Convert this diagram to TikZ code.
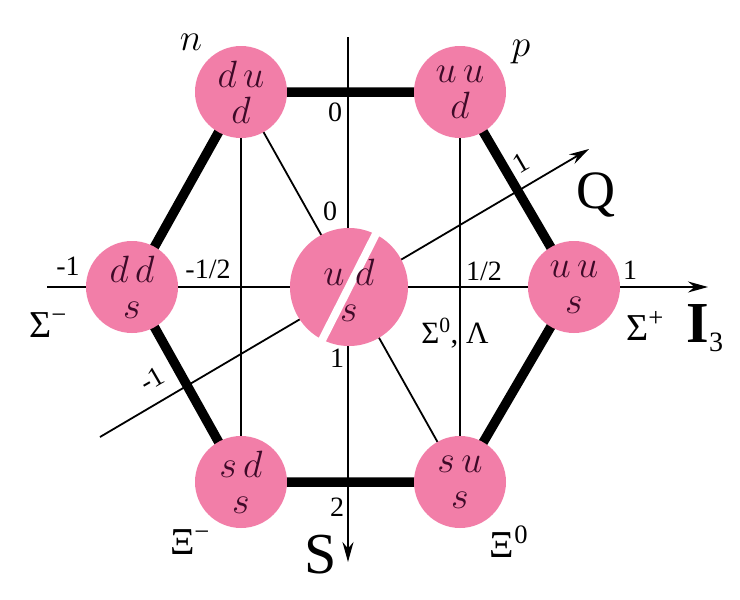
\RequirePackage{fix-cm}
\documentclass[tikz,border=0pt]{standalone}
\usepackage{fontspec}
\setmainfont{Liberation Serif}
\usetikzlibrary{arrows.meta}
\definecolor{quarkpink}{RGB}{242,126,168}
\definecolor{quarkink}{RGB}{62,10,40}
\tikzset{
  baryon/.style={circle, fill=quarkpink, draw=none, minimum size=92pt, inner sep=0pt,
    text=quarkink, align=center, font=\fontsize{38}{36}\selectfont},
  thinline/.style={line width=1.8pt, black},
  thickedge/.style={line width=9.5pt, black},
  axisline/.style={line width=1.8pt, black, -{Stealth[length=20pt,width=11pt]}},
  numlbl/.style={font=\fontsize{28}{30}\selectfont, inner sep=0pt},
  partlbl/.style={font=\fontsize{38}{40}\selectfont, inner sep=0pt},
  biglbl/.style={font=\fontsize{58}{60}\selectfont, inner sep=0pt},
}
\begin{document}
\begin{tikzpicture}[x=1pt,y=-1pt]
\useasboundingbox[fill=white] (0,0) rectangle (740,600);
% positions
\coordinate (cn) at (241,92);
\coordinate (cp) at (460,92);
\coordinate (csm) at (132,287);
\coordinate (c0) at (349,287);
\coordinate (csp) at (574,287);
\coordinate (cxm) at (241,482);
\coordinate (cx0) at (460,482);
% axes ends
\coordinate (iA) at (47,287);
\coordinate (iB) at (708,287);
\coordinate (sA) at (348,37);
\coordinate (sB) at (348,562);
\coordinate (qA) at (100,437);
\coordinate (qB) at (589,149);
% thin lines
\draw[thinline] (cn) -- (cxm);
\draw[thinline] (cp) -- (cx0);
\draw[thinline] (cn) -- (cx0);
% axes
\draw[axisline] (iA) -- (iB);
\draw[axisline] (sA) -- (sB);
\draw[axisline] (qA) -- (qB);
% thick hexagon
\draw[thickedge] (cn) -- (cp) -- (csp) -- (cx0) -- (cxm) -- (csm) -- cycle;
% baryon circles
\node[baryon] (n) at (cn) {$d\,u$\\$d$};
\node[baryon] (p) at (cp) {$u\,u$\\$d$};
\node[baryon] (sm) at (csm) {$d\,d$\\$s$};
\node[baryon] (sp) at (csp) {$u\,u$\\$s$};
\node[baryon] (xm) at (cxm) {$s\,d$\\$s$};
\node[baryon] (x0) at (cx0) {$s\,u$\\$s$};
\node[baryon, minimum size=118pt] (mid) at (c0) {};
\coordinate (gA) at (382,222);
\coordinate (gB) at (316,352);
\draw[white, line width=8pt] (gA) -- (gB);
\node[text=quarkink, align=center, font=\fontsize{38}{36}\selectfont, inner sep=0pt] (midtxt) at (349,290) {$u\;d$\\$s$};
% particle labels
\node[partlbl] (ln) at (191,42) {$n$};
\node[partlbl] (lp) at (521,52) {$p$};
\node[partlbl] (lsm) at (48,325) {Σ\textsuperscript{−}};
\node[partlbl] (lsp) at (645,326) {Σ\textsuperscript{+}};
\node[partlbl] (lxm) at (190,542) {Ξ\textsuperscript{−}};
\node[partlbl] (lx0) at (509,542) {Ξ\textsuperscript{0}};
\node[font=\fontsize{31}{32}\selectfont, inner sep=0pt] (l0) at (455,333) {Σ\textsuperscript{0}, Λ};
% numbers
\node[numlbl] (a1) at (335,112) {0};
\node[numlbl] (a2) at (330,211) {0};
\node[numlbl] (a3) at (337,358) {1};
\node[numlbl] (a4) at (337,507) {2};
\node[numlbl] (b1) at (68,266) {-1};
\node[numlbl] (b2) at (208,269) {-1/2};
\node[numlbl] (b3) at (484,271) {1/2};
\node[numlbl] (b4) at (630,270) {1};
\node[numlbl, rotate=30] (q1) at (521,163) {1};
\node[numlbl, rotate=30] (q2) at (152,379) {-1};
% axis names
\node[biglbl, font=\fontsize{54}{56}\selectfont] (lQ) at (596,195) {Q};
\node[biglbl] (lS) at (321,555) {S};
\node[biglbl] (lI) at (705,328) {\textbf{I}\textsubscript{\normalfont\fontsize{28}{30}\selectfont 3}};
\end{tikzpicture}
\end{document}
